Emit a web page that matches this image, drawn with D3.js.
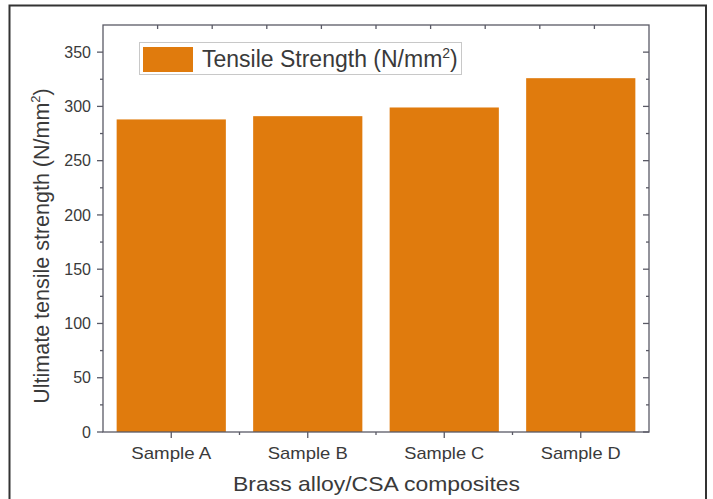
<!DOCTYPE html>
<html>
<head>
<meta charset="utf-8">
<script src="https://cdn.jsdelivr.net/npm/d3@7/dist/d3.min.js"></script>
<style>
  html, body { margin: 0; padding: 0; background: #fff; }
  svg { display: block; font-family: "Liberation Sans", Arial, sans-serif; }
</style>
</head>
<body>
<svg id="chart" width="713" height="499"></svg>
<script>
// Ultimate tensile strength of brass alloy / CSA composite samples
const categories = ["Sample A", "Sample B", "Sample C", "Sample D"];
const strength = [288, 291, 299, 326];
const yTicks = [0, 50, 100, 150, 200, 250, 300, 350];
const yMinorTicks = [25, 75, 125, 175, 225, 275, 325];
const topTicks = [1, 2, 3, 4, 5, 6, 7, 8, 9];
const legendLabel = "Tensile Strength (N/mm";
const xTitle = "Brass alloy/CSA composites";
const yTitle = "Ultimate tensile strength (N/mm";

const barColor = "#E07B0D";
const axisColor = "#5a5a66";
const textColor = "#3a3a3a";

const svg = d3.select("#chart");
const W = 713, H = 499;
const plot = { left: 103, right: 649, top: 25, bottom: 432 };

// outer frame
svg.append("rect")
  .attr("x", 9.5).attr("y", 5.5)
  .attr("width", 696.5).attr("height", H + 10)
  .attr("fill", "none").attr("stroke", "#333").attr("stroke-width", 2);

const x = d3.scaleBand()
  .domain(categories)
  .range([plot.left, plot.right])
  .paddingInner(0.2)
  .paddingOuter(0.1);

const y = d3.scaleLinear().domain([0, 375]).range([plot.bottom, plot.top]);
const xTop = d3.scaleLinear().domain([0, 10]).range([plot.left, plot.right]);

// bars
svg.append("g").selectAll("rect")
  .data(categories)
  .join("rect")
  .attr("x", d => x(d))
  .attr("y", (d, i) => y(strength[i]))
  .attr("width", x.bandwidth())
  .attr("height", (d, i) => y(0) - y(strength[i]))
  .attr("fill", barColor);

// axis frame
const frame = svg.append("g").attr("stroke", axisColor).attr("stroke-width", 1.3).attr("fill", "none");
frame.append("rect")
  .attr("x", plot.left).attr("y", plot.top)
  .attr("width", plot.right - plot.left).attr("height", plot.bottom - plot.top);

// left axis ticks (outward)
frame.selectAll(".ly").data(yTicks).join("line")
  .attr("x1", plot.left - 6).attr("x2", plot.left)
  .attr("y1", d => y(d)).attr("y2", d => y(d));
frame.selectAll(".lym").data(yMinorTicks).join("line")
  .attr("x1", plot.left - 3).attr("x2", plot.left)
  .attr("y1", d => y(d)).attr("y2", d => y(d));

// right axis ticks (inward)
frame.selectAll(".ry").data(yTicks).join("line")
  .attr("x1", plot.right - 6).attr("x2", plot.right)
  .attr("y1", d => y(d)).attr("y2", d => y(d));
frame.selectAll(".rym").data(yMinorTicks).join("line")
  .attr("x1", plot.right - 3).attr("x2", plot.right)
  .attr("y1", d => y(d)).attr("y2", d => y(d));

// top axis ticks (inward)
frame.selectAll(".tx").data(topTicks).join("line")
  .attr("x1", d => xTop(d)).attr("x2", d => xTop(d))
  .attr("y1", plot.top).attr("y2", plot.top + 4);

// bottom axis ticks: major at categories, minor between them
const centers = categories.map(c => x(c) + x.bandwidth() / 2);
frame.selectAll(".bx").data(centers).join("line")
  .attr("x1", d => d).attr("x2", d => d)
  .attr("y1", plot.bottom).attr("y2", plot.bottom + 6);
frame.selectAll(".bxm").data(d3.pairs(centers)).join("line")
  .attr("x1", d => (d[0] + d[1]) / 2).attr("x2", d => (d[0] + d[1]) / 2)
  .attr("y1", plot.bottom).attr("y2", plot.bottom + 3);

// y tick labels
svg.append("g").selectAll("text").data(yTicks).join("text")
  .attr("x", plot.left - 12)
  .attr("y", d => y(d))
  .attr("dy", "0.36em")
  .attr("text-anchor", "end")
  .attr("font-size", 16)
  .attr("fill", textColor)
  .text(d => d);

// category labels
svg.append("g").selectAll("text").data(categories).join("text")
  .attr("x", d => x(d) + x.bandwidth() / 2)
  .attr("y", 459)
  .attr("text-anchor", "middle")
  .attr("font-size", 17)
  .attr("textLength", 80)
  .attr("lengthAdjust", "spacingAndGlyphs")
  .attr("fill", textColor)
  .text(d => d);

// x title
svg.append("text")
  .attr("x", (plot.left + plot.right) / 2 + 0.5)
  .attr("y", 491)
  .attr("text-anchor", "middle")
  .attr("font-size", 21)
  .attr("textLength", 287)
  .attr("lengthAdjust", "spacingAndGlyphs")
  .attr("fill", textColor)
  .text(xTitle);

// y title with superscript
const yt = svg.append("text")
  .attr("transform", "translate(49, 246) rotate(-90)")
  .attr("text-anchor", "middle")
  .attr("font-size", 21.5)
  .attr("fill", textColor);
yt.append("tspan").text(yTitle);
yt.append("tspan").attr("font-size", 13).attr("dy", -9).text("2");
yt.append("tspan").attr("dy", 9).text(")");

// legend
const lg = svg.append("g");
lg.append("rect")
  .attr("x", 139.5).attr("y", 42.5).attr("width", 322).attr("height", 32)
  .attr("fill", "#fff").attr("stroke", "#c8c8c8").attr("stroke-width", 1);
lg.append("rect")
  .attr("x", 143).attr("y", 47).attr("width", 50).attr("height", 25)
  .attr("fill", barColor);
const lt = lg.append("text")
  .attr("x", 202).attr("y", 67)
  .attr("font-size", 23)
  .attr("fill", textColor);
lt.append("tspan").text(legendLabel);
lt.append("tspan").attr("font-size", 14).attr("dy", -9).text("2");
lt.append("tspan").attr("dy", 9).text(")");
</script>
</body>
</html>
